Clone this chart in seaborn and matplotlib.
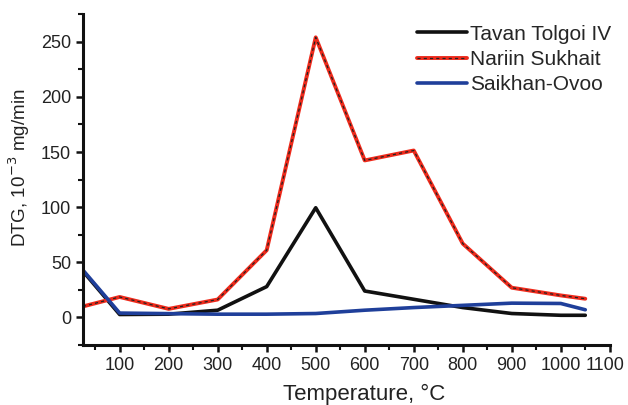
import matplotlib
matplotlib.use("Agg")
import matplotlib.pyplot as plt
import matplotlib.transforms as mtransforms
import seaborn as sns
import pandas as pd
from matplotlib.ticker import MultipleLocator
from matplotlib.legend_handler import HandlerTuple

temperature = [25, 100, 200, 300, 400, 500, 600, 700, 800, 900, 1000, 1050]
tavan_tolgoi = [42, 2.7, 3, 6.6, 28, 99.5, 24, 16.5, 9, 3.6, 2, 2]
nariin_sukhait = [10, 18.6, 7.8, 16.3, 61, 254, 142.4, 151.4, 67, 27, 20, 17]
saikhan_ovoo = [43, 4, 3.5, 3, 3, 3.6, 6.6, 9, 11, 13, 12.7, 7]
series_names = ["Tavan Tolgoi IV", "Nariin Sukhait", "Saikhan-Ovoo"]
x_ticks = [100, 200, 300, 400, 500, 600, 700, 800, 900, 1000, 1100]
y_ticks = [0, 50, 100, 150, 200, 250]

df = pd.DataFrame({"T": temperature, series_names[0]: tavan_tolgoi,
                   series_names[1]: nariin_sukhait, series_names[2]: saikhan_ovoo})

sns.set_style("ticks")
plt.rcParams["font.family"] = ["Liberation Sans", "DejaVu Sans"]

fig = plt.figure(figsize=(6.28, 4.05), dpi=100)
ax = fig.add_axes([0.132, 0.148, 0.839, 0.817])

sns.lineplot(data=df, x="T", y=series_names[0], ax=ax, color="#111111", lw=2.6)
sns.lineplot(data=df, x="T", y=series_names[1], ax=ax, color="#ee2a1b", lw=2.8)
sns.lineplot(data=df, x="T", y=series_names[1], ax=ax, color="#222222", lw=0.9,
             linestyle=(0, (2.5, 2.5)))
sns.lineplot(data=df, x="T", y=series_names[2], ax=ax, color="#1f3f9a", lw=2.6)

lines = ax.get_lines()
handles = [lines[0], (lines[1], lines[2]), lines[3]]
ax.legend(handles, series_names, loc="upper left", frameon=False, fontsize=15,
          handlelength=2.4, handletextpad=0.15, labelspacing=0.3,
          borderpad=0, borderaxespad=0,
          bbox_to_anchor=(0.634, 0.968),
          handler_map={tuple: HandlerTuple(ndivide=1, pad=0)})

ax.set_xlim(25, 1100)
ax.set_ylim(-25, 275)
ax.set_xticks(x_ticks)
ax.set_yticks(y_ticks)
ax.xaxis.set_minor_locator(MultipleLocator(50))
ax.yaxis.set_minor_locator(MultipleLocator(25))
ax.tick_params(axis="both", which="major", labelsize=13, width=1.8, length=5,
               color="#111111", labelcolor="#222222")
ax.tick_params(axis="both", which="minor", width=1.5, length=3.5, color="#111111")
ax.set_xlabel("Temperature, °C", fontsize=16, color="#222222")
ax.set_ylabel("DTG, 10$^{-3}$ mg/min", fontsize=13.5, color="#222222")
ax.xaxis.set_label_coords(0.533, -0.117)
ax.yaxis.set_label_coords(-0.097, 0.535)
for s in ["left", "bottom"]:
    ax.spines[s].set_linewidth(2.2)
    ax.spines[s].set_color("#111111")
sns.despine(ax=ax)

last = ax.get_xticklabels()[-1]
last.set_transform(last.get_transform() +
                   mtransforms.ScaledTranslation(-5 / 100, 0, fig.dpi_scale_trans))

fig.savefig("out.png", dpi=100)
